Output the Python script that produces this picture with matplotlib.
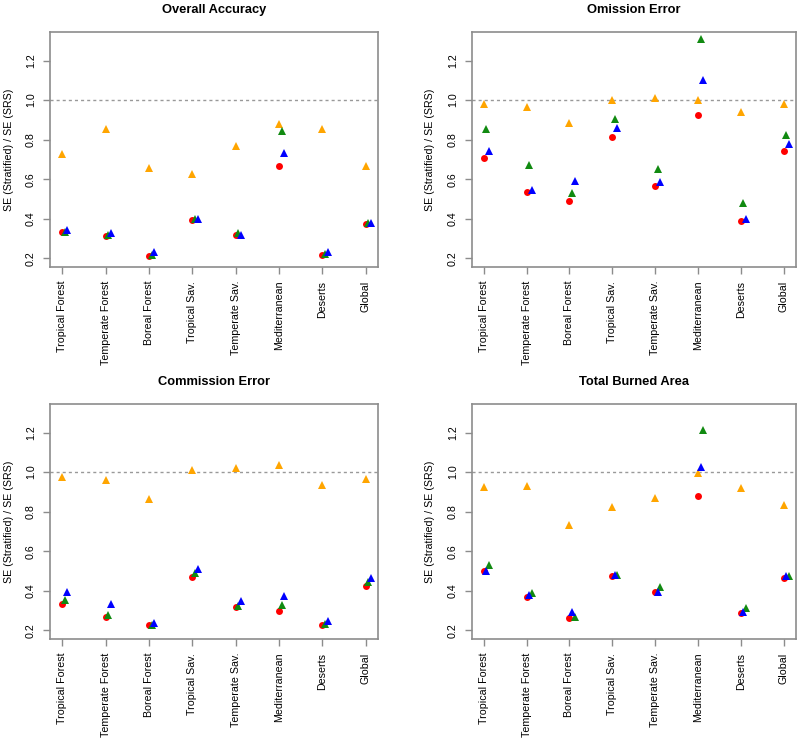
import numpy as np
import matplotlib
matplotlib.use("Agg")
import matplotlib.pyplot as plt

plt.rcParams['font.family'] = ['Liberation Sans', 'DejaVu Sans']

categories = ['Tropical Forest', 'Temperate Forest', 'Boreal Forest', 'Tropical Sav.',
              'Temperate Sav.', 'Mediterranean', 'Deserts', 'Global']

# SE ratios, one list per marker colour
oa_orange = [0.729, 0.853, 0.659, 0.624, 0.768, 0.878, 0.856, 0.669]
oa_red    = [0.331, 0.311, 0.214, 0.395, 0.316, 0.667, 0.219, 0.371]
oa_green  = [0.335, 0.318, 0.217, 0.400, 0.326, 0.846, 0.222, 0.378]
oa_blue   = [0.341, 0.329, 0.234, 0.397, 0.320, 0.731, 0.234, 0.378]

om_orange = [0.980, 0.965, 0.886, 1.000, 1.010, 1.003, 0.940, 0.982]
om_red    = [0.705, 0.535, 0.488, 0.814, 0.565, 0.923, 0.387, 0.744]
om_green  = [0.854, 0.670, 0.531, 0.905, 0.654, 1.308, 0.479, 0.826]
om_blue   = [0.744, 0.546, 0.593, 0.861, 0.588, 1.104, 0.400, 0.779]

co_orange = [0.973, 0.961, 0.864, 1.010, 1.022, 1.035, 0.936, 0.965]
co_red    = [0.332, 0.268, 0.225, 0.471, 0.317, 0.295, 0.227, 0.426]
co_green  = [0.352, 0.279, 0.225, 0.488, 0.322, 0.327, 0.230, 0.445]
co_blue   = [0.396, 0.334, 0.235, 0.510, 0.346, 0.374, 0.247, 0.465]

ba_orange = [0.924, 0.931, 0.730, 0.824, 0.871, 0.997, 0.918, 0.832]
ba_red    = [0.498, 0.367, 0.260, 0.475, 0.391, 0.878, 0.285, 0.466]
ba_green  = [0.532, 0.389, 0.267, 0.480, 0.418, 1.211, 0.312, 0.473]
ba_blue   = [0.500, 0.379, 0.290, 0.482, 0.396, 1.027, 0.290, 0.473]

panels = [
    ('Overall Accuracy', oa_orange, oa_red, oa_green, oa_blue, 0.06, 0.12),
    ('Omission Error', om_orange, om_red, om_green, om_blue, 0.06, 0.12),
    ('Commission Error', co_orange, co_red, co_green, co_blue, 0.06, 0.12),
    ('Total Burned Area', ba_orange, ba_red, ba_green, ba_blue, 0.12, 0.06),
]

# axes boxes in figure fractions [left, bottom, width, height]
boxes = [[0.0625, 0.6397, 0.410, 0.317],
         [0.5896, 0.6397, 0.405, 0.317],
         [0.0625, 0.1377, 0.410, 0.317],
         [0.5896, 0.1377, 0.405, 0.317]]

fig = plt.figure(figsize=(8, 7.41), dpi=100)
x = np.arange(1, len(categories) + 1)
box_col = '#8c8c8c'

for (title, orange, red, green, blue, g_off, b_off), box in zip(panels, boxes):
    ax = fig.add_axes(box)
    ax.axhline(1.0, color='#999999', lw=1, ls=(0, (2.2, 2.2)), zorder=1)
    ax.plot(x, orange, '^', color='#FFA500', ms=5.5, mew=0, zorder=3)
    ax.plot(x, red, 'o', color='#FF0000', ms=5, mew=0, zorder=3)
    ax.plot(x + g_off, green, '^', color='#118A11', ms=5.5, mew=0, zorder=3)
    ax.plot(x + b_off, blue, '^', color='#0000FF', ms=5.5, mew=0, zorder=3)

    ax.set_xlim(1 - 0.28, 8 + 0.28)
    ax.set_ylim(0.2 - 0.044, 1.3 + 0.044)
    ax.set_xticks(x)
    ax.set_xticklabels(categories, rotation=90, fontsize=7.7)
    ax.set_yticks([0.2, 0.4, 0.6, 0.8, 1.0, 1.2])
    ax.set_yticklabels(['0.2', '0.4', '0.6', '0.8', '1.0', '1.2'], rotation=90,
                       va='center', fontsize=7.7)
    ax.tick_params(length=5, width=1, color=box_col, pad=5)
    for s in ax.spines.values():
        s.set_color(box_col)
        s.set_linewidth(1.2)
    ax.set_title(title, fontsize=9.3, fontweight='bold', pad=14)
    ax.set_ylabel('SE (Stratified) / SE (SRS)', fontsize=7.7, labelpad=9)

fig.savefig('out.png', dpi=100)
